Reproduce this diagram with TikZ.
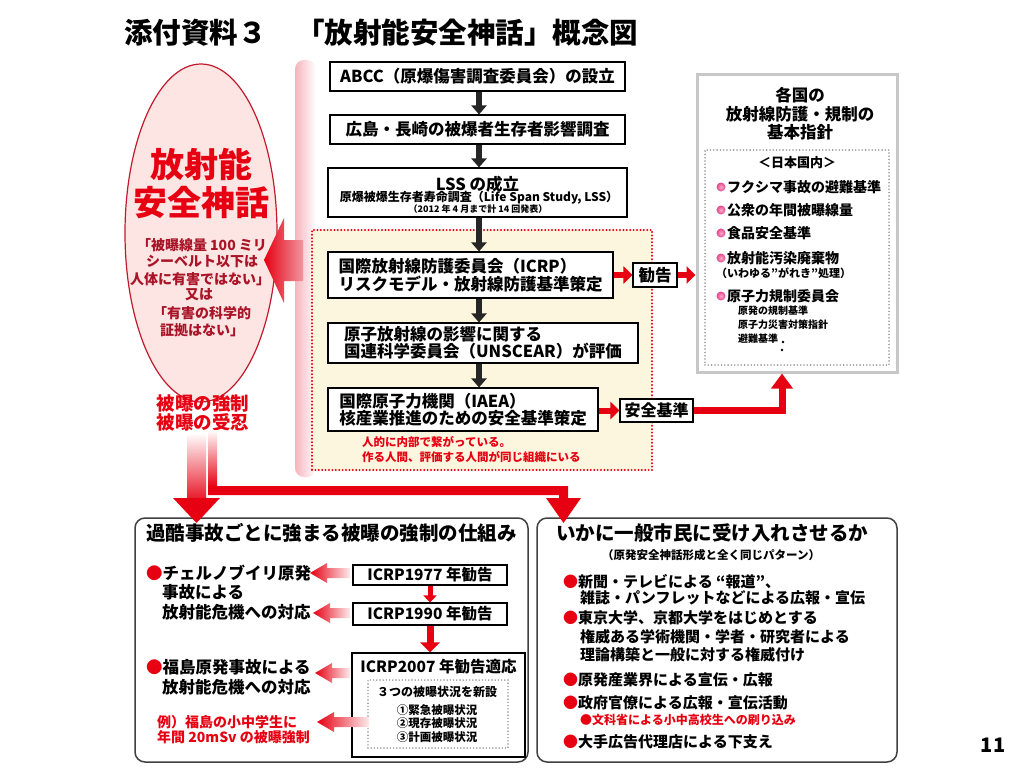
\documentclass[tikz,border=0pt]{standalone}
\usepackage{fontspec}
\setmainfont{Noto Sans CJK JP}
\usetikzlibrary{arrows.meta,calc,shapes.geometric}
\definecolor{myred}{RGB}{230,0,18}
\definecolor{dred}{RGB}{170,20,40}
\definecolor{edred}{RGB}{195,25,45}
\definecolor{cream}{RGB}{253,246,222}
\definecolor{pinkfill}{RGB}{252,229,226}
\definecolor{pinkedge}{RGB}{240,150,160}
\definecolor{pinkstrip}{RGB}{245,180,190}
\definecolor{bulpink}{RGB}{228,70,140}
\definecolor{bulpale}{RGB}{246,170,200}
\newcommand\fsz[2]{\fontsize{#1pt}{#2pt}\selectfont}
\newcommand\lfarrow[3]{\shade[left color=myred,right color=myred!8] (#1,#2) -- (#1+17,#2-10) -- (#1+17,#2-5) -- (#3,#2-5) -- (#3,#2+5) -- (#1+17,#2+5) -- (#1+17,#2+10) -- cycle;}
\tikzset{
  box/.style={draw=black, line width=1.1pt, fill=white, inner sep=0pt},
  txt/.style={inner sep=0pt},
  redarr/.style={draw=myred, line width=6pt, -{Triangle[length=9pt,width=17pt]}},
  blkarr/.style={draw=black!85, line width=5.5pt, -{Triangle[length=9pt,width=15pt]}},
  dotbox/.style={line width=1.8pt, line cap=round, dash pattern=on 0pt off 3.3pt, inner sep=0pt},
  pbul/.style={circle, minimum size=9pt, inner sep=0pt, inner color=bulpale, outer color=bulpink},
}
\begin{document}
\begin{tikzpicture}[x=1pt,y=-1pt]
\fill[white] (0,0) rectangle (1024,768);
\useasboundingbox (0,0) rectangle (1024,768);

% ---------- title
\node[txt, anchor=west, font=\bfseries\fsz{28.5}{30}] (t1) at (124,33) {添付資料３};
\node[txt, anchor=west, font=\bfseries\fsz{28.5}{30}] (t2) at (296,33) {「放射能安全神話」概念図};

% ---------- ellipse
\node[ellipse, draw=edred, line width=1.2pt, fill=pinkfill, minimum width=152pt, minimum height=338pt, inner sep=0pt] (ell) at (201,233) {};
\node[txt, text=myred, font=\bfseries\fsz{34}{36}] (m1) at (201,165) {放射能};
\node[txt, text=myred, font=\bfseries\fsz{34}{36}] (m2) at (201,203) {安全神話};
\node[txt, text=dred, font=\bfseries\fsz{14}{15}] (q1) at (202,245) {「被曝線量 100 ミリ};
\node[txt, text=dred, font=\bfseries\fsz{14}{15}] (q2) at (202,262) {シーベルト以下は};
\node[txt, text=dred, font=\bfseries\fsz{14}{15}] (q3) at (200,279) {人体に有害ではない」};
\node[txt, text=dred, font=\bfseries\fsz{14}{15}] (q4) at (199,295) {又は};
\node[txt, text=dred, font=\bfseries\fsz{14}{15}] (q5) at (202,313) {「有害の科学的};
\node[txt, text=dred, font=\bfseries\fsz{14}{15}] (q6) at (202,330) {証拠はない」};
\node[txt, text=myred, font=\bfseries\fsz{18.5}{20}] (h1) at (203,403) {被曝の強制};
\node[txt, text=myred, font=\bfseries\fsz{18.5}{20}] (h2) at (203,422) {被曝の受忍};

% ---------- pink panel edge
\shade[left color=pinkstrip, right color=white, rounded corners=9pt] (295,60) rectangle (316,477);

% ---------- dotted red area
\node[draw=myred, fill=cream, dotbox, line width=2.2pt, dash pattern=on 0pt off 3.4pt, minimum width=340pt, minimum height=240pt] (dot) at (482,350) {};

% ---------- big arrow into ellipse
\shade[left color=myred, right color=pinkedge] (264,260) -- (284,218) -- (284,240) -- (303,240) -- (303,281) -- (284,281) -- (284,303) -- cycle;

% ---------- right box
\node[draw=black!22, line width=3pt, fill=white, minimum width=200pt, minimum height=298pt, inner sep=0pt] (rb) at (797,223) {};
\node[draw=black!40, dotbox, minimum width=184pt, minimum height=215pt] (rbi) at (797,257.5) {};
\node[txt, font=\bfseries\fsz{16.5}{18}] (r1) at (800,95) {各国の};
\node[txt, font=\bfseries\fsz{16.5}{18}] (r2) at (800,114) {放射線防護・規制の};
\node[txt, font=\bfseries\fsz{16.5}{18}] (r3) at (800,132) {基本指針};
\node[txt, font=\bfseries\fsz{13}{14}] (r4) at (797,163) {＜日本国内＞};
\node[pbul] (pb1) at (721,187) {};
\node[pbul] (pb2) at (721,210) {};
\node[pbul] (pb3) at (721,233) {};
\node[pbul] (pb4) at (721,258) {};
\node[pbul] (pb5) at (721,296) {};
\node[txt, anchor=west, font=\bfseries\fsz{14}{15}] (ri1) at (727,187) {フクシマ事故の避難基準};
\node[txt, anchor=west, font=\bfseries\fsz{14}{15}] (ri2) at (727,210) {公衆の年間被曝線量};
\node[txt, anchor=west, font=\bfseries\fsz{14}{15}] (ri3) at (727,233) {食品安全基準};
\node[txt, anchor=west, font=\bfseries\fsz{14}{15}] (ri4) at (727,258) {放射能汚染廃棄物};
\node[txt, anchor=west, font=\bfseries\fsz{11}{12}] (ri4b) at (716,273) {（いわゆる”がれき”処理）};
\node[txt, anchor=west, font=\bfseries\fsz{14}{15}] (ri5) at (727,296) {原子力規制委員会};
\node[txt, anchor=west, font=\bfseries\fsz{10}{11}] (ri5a) at (738,311) {原発の規制基準};
\node[txt, anchor=west, font=\bfseries\fsz{10}{11}] (ri5b) at (738,325) {原子力災害対策指針};
\node[txt, anchor=west, font=\bfseries\fsz{10}{11}] (ri5c) at (738,339) {避難基準};
\fill (783,342) circle (1.3);
\fill (782,350) circle (1.3);

% ---------- central column boxes
\coordinate (ax) at (479,0);
\node[box, minimum width=295pt, minimum height=29pt, font=\bfseries\fsz{16.5}{18}] (b1) at (477.5,76.5) {ABCC（原爆傷害調査委員会）の設立};
\node[box, minimum width=295pt, minimum height=29pt, font=\bfseries\fsz{16.5}{18}] (b2) at (477.5,129.5) {広島・長崎の被爆者生存者影響調査};
\node[box, minimum width=299pt, minimum height=49pt] (b3) at (477.5,192.5) {};
\node[txt, font=\bfseries\fsz{16.5}{18}] (b3a) at (477.5,184) {LSS の成立};
\node[txt, font=\bfseries\fsz{12}{13}] (b3b) at (479,198) {原爆被爆生存者寿命調査（Life Span Study, LSS）};
\node[txt, font=\bfseries\fsz{9}{10}] (b3c) at (478,209.5) {（2012 年 4 月まで計 14 回発表）};
\node[box, minimum width=285pt, minimum height=46pt, align=left, font=\bfseries\fsz{16.5}{18.5}] (b4) at (470.5,275) {国際放射線防護委員会（ICRP）\\リスクモデル・放射線防護基準策定};
\node[box, minimum width=310pt, minimum height=40pt, align=left, font=\bfseries\fsz{16.5}{17.5}] (b5) at (483,343) {原子放射線の影響に関する\\国連科学委員会（UNSCEAR）が評価};
\node[box, minimum width=270pt, minimum height=43pt, align=left, font=\bfseries\fsz{16.5}{17.5}] (b6) at (463,409.5) {国際原子力機関（IAEA）\\核産業推進のための安全基準策定};
\draw[blkarr] (b1.south -| ax) -- (b2.north -| ax);
\draw[blkarr] (b2.south -| ax) -- (b3.north -| ax);
\draw[blkarr] (b3.south -| ax) -- (b4.north -| ax);
\draw[blkarr] (b4.south -| ax) -- (b5.north -| ax);
\draw[blkarr] (b5.south -| ax) -- (b6.north -| ax);
\node[txt, anchor=west, text=myred, font=\bfseries\fsz{11.5}{13}] (n1) at (362,442) {人的に内部で繋がっている。};
\node[txt, anchor=west, text=myred, font=\bfseries\fsz{11.5}{13}] (n2) at (362,457) {作る人間、評価する人間が同じ組織にいる};

% ---------- side labels
\node[box, minimum width=44pt, minimum height=24pt, font=\bfseries\fsz{16.5}{18}] (kk) at (655,275) {勧告};
\node[box, minimum width=73pt, minimum height=23pt, font=\bfseries\fsz{16}{18}] (az) at (656.5,410.5) {安全基準};
\draw[redarr] (b4.east) -- (kk.west);
\draw[redarr] (kk.east) -- (kk.east -| rb.west);
\draw[redarr] (b6.east |- az.west) -- (az.west);
\coordinate (rbin) at ([xshift=-15pt]rb.south);
\draw[draw=myred, line width=7pt, -{Triangle[length=15pt,width=21pt]}] (az.east) -| (rbin);

% ---------- bottom left box
\node[draw=black!75, line width=1.5pt, rounded corners=10pt, fill=white, minimum width=393pt, minimum height=244pt, inner sep=0pt] (bl) at (331.5,640) {};
\node[txt, anchor=west, font=\bfseries\fsz{19.5}{21}] (blt) at (146,533) {過酷事故ごとに強まる被曝の強制の仕組み};
\node[box, minimum width=154pt, minimum height=20pt, font=\bfseries\fsz{15.5}{17}] (i77) at (430,575) {ICRP1977 年勧告};
\node[box, minimum width=154pt, minimum height=22pt, font=\bfseries\fsz{15.5}{17}] (i90) at (430,614) {ICRP1990 年勧告};
\node[box, minimum width=173pt, minimum height=104pt] (i07) at (438.5,705) {};
\node[txt, font=\bfseries\fsz{15.5}{17}] (i07t) at (438.5,667) {ICRP2007 年勧告適応};
\node[draw=black!45, dotbox, line width=1.6pt, dash pattern=on 0pt off 3.2pt, minimum width=140pt, minimum height=68pt] (i07i) at (438,714) {};
\node[txt, font=\bfseries\fsz{12}{13}] (s0) at (437,692) {３つの被曝状況を新設};
\node[txt, font=\bfseries\fsz{11.5}{12}] (s1) at (437,710) {①緊急被曝状況};
\node[txt, font=\bfseries\fsz{11.5}{12}] (s2) at (437,723.5) {②現存被曝状況};
\node[txt, font=\bfseries\fsz{11.5}{12}] (s3) at (437,737) {③計画被曝状況};
\draw[draw=myred, line width=5pt, -{Triangle[length=7pt,width=13pt]}] (i77.south) -- (i90.north);
\draw[draw=myred, line width=7pt, -{Triangle[length=10pt,width=19pt]}] (i90.south) -- (i90.south |- i07.north);
\lfarrow{310}{573}{350}
\lfarrow{313}{613}{350}
\lfarrow{315}{673}{350}
\lfarrow{317}{722}{369}
\node[txt, anchor=west, font=\bfseries\fsz{16.5}{18}] (c1) at (146,573) {{\color{myred}●}チェルノブイリ原発};
\node[txt, anchor=west, font=\bfseries\fsz{16.5}{18}] (c2) at (162,592) {事故による};
\node[txt, anchor=west, font=\bfseries\fsz{16.5}{18}] (c3) at (162,612) {放射能危機への対応};
\node[txt, anchor=west, font=\bfseries\fsz{16.5}{18}] (f1) at (146,667) {{\color{myred}●}福島原発事故による};
\node[txt, anchor=west, font=\bfseries\fsz{16.5}{18}] (f2) at (162,687) {放射能危機への対応};
\node[txt, anchor=west, text=myred, font=\bfseries\fsz{14}{15}] (e1) at (157,722) {例）福島の小中学生に};
\node[txt, anchor=west, text=myred, font=\bfseries\fsz{14}{15}] (e2) at (157,737) {年間 20mSv の被曝強制};

% ---------- bottom right box
\node[draw=black!75, line width=1.5pt, rounded corners=10pt, fill=white, minimum width=360pt, minimum height=244pt, inner sep=0pt] (br) at (717,640) {};
\node[txt, anchor=west, font=\bfseries\fsz{19.5}{21}] (brt) at (556,533) {いかに一般市民に受け入れさせるか};
\node[txt, anchor=west, font=\bfseries\fsz{11.5}{12}] (brs) at (602,555) {（原発安全神話形成と全く同じパターン）};
\node[txt, anchor=west, font=\bfseries\fsz{15}{16}] (k1) at (563,582) {{\color{myred}●}新聞・テレビによる “報道”、};
\node[txt, anchor=west, font=\bfseries\fsz{15}{16}] (k1b) at (580,598) {雑誌・パンフレットなどによる広報・宣伝};
\node[txt, anchor=west, font=\bfseries\fsz{15}{16}] (k2) at (563,618) {{\color{myred}●}東京大学、京都大学をはじめとする};
\node[txt, anchor=west, font=\bfseries\fsz{15}{16}] (k2b) at (580,637) {権威ある学術機関・学者・研究者による};
\node[txt, anchor=west, font=\bfseries\fsz{15}{16}] (k2c) at (580,655) {理論構築と一般に対する権威付け};
\node[txt, anchor=west, font=\bfseries\fsz{15}{16}] (k3) at (563,680) {{\color{myred}●}原発産業界による宣伝・広報};
\node[txt, anchor=west, font=\bfseries\fsz{15}{16}] (k4) at (563,703) {{\color{myred}●}政府官僚による広報・宣伝活動};
\node[txt, anchor=west, text=myred, font=\bfseries\fsz{12}{13}] (k4b) at (580,720) {●文科省による小中高校生への刷り込み};
\node[txt, anchor=west, font=\bfseries\fsz{15}{16}] (k5) at (563,742) {{\color{myred}●}大手広告代理店による下支え};

% ---------- arrows from ellipse to bottom boxes
\shade[top color=white, bottom color=myred!90] (187,433) rectangle (206,499);
\fill[myred] (173,498) -- (220,498) -- (196.5,523) -- cycle;
\shade[top color=white, bottom color=myred] (208,430) rectangle (217,487);
\fill[myred] (208,486) -- (568,486) -- (568,498) -- (581,498) -- (563.5,523) -- (546,498) -- (559,498) -- (559,495) -- (208,495) -- cycle;

% ---------- page number
\node[txt, font=\bfseries\fsz{20}{22}] (pg) at (993,745) {11};
\end{tikzpicture}
\end{document}
